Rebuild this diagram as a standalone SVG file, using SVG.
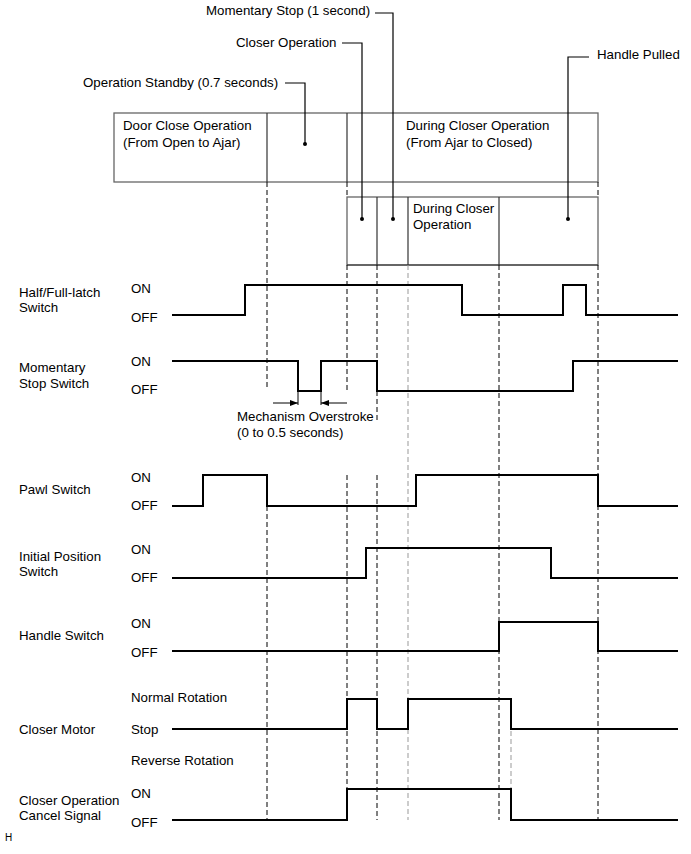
<svg xmlns="http://www.w3.org/2000/svg" width="691" height="854" viewBox="0 0 691 854">
<defs>
<style>
text{font-family:"Liberation Sans",Arial,sans-serif;font-size:13.3px;fill:#000}
.box{fill:none;stroke:#666;stroke-width:1.3}
.div{stroke:#333;stroke-width:1.2;fill:none}
.lead{stroke:#000;stroke-width:1.2;fill:none}
.dash{stroke:#000;stroke-width:1;stroke-dasharray:5 3;fill:none}
.dashg{stroke:#999;stroke-width:1;stroke-dasharray:5 3;fill:none}
.wave{stroke:#000;stroke-width:2;fill:none}
.thin{stroke:#000;stroke-width:1;fill:none}
</style>
<marker id="ah" markerWidth="8" markerHeight="6" refX="8" refY="3" orient="auto" markerUnits="userSpaceOnUse">
<path d="M0,0 L8,3 L0,6 Z" fill="#000"/>
</marker>
</defs>
<rect width="691" height="854" fill="#fff"/>

<g id="phase-boxes">
<rect class="box" x="114" y="113" width="484" height="69"/>
<line class="div" x1="267" y1="113" x2="267" y2="182"/>
<line class="div" x1="347" y1="113" x2="347" y2="182"/>
<text x="123" y="130">Door Close Operation</text>
<text x="123" y="146.5">(From Open to Ajar)</text>
<text x="406" y="130">During Closer Operation</text>
<text x="406" y="147">(From Ajar to Closed)</text>
<rect class="box" x="347" y="197" width="251" height="68"/>
<line class="div" x1="347" y1="265" x2="598" y2="265"/>
<line class="div" x1="377" y1="197" x2="377" y2="265"/>
<line class="div" x1="408" y1="197" x2="408" y2="265"/>
<line class="div" x1="499" y1="197" x2="499" y2="265"/>
<text x="413" y="213">During Closer</text>
<text x="413" y="229">Operation</text>
</g>

<g id="callouts">
<text x="206" y="15">Momentary Stop (1 second)</text>
<polyline class="lead" points="375,13 393,13 393,219"/>
<circle cx="393" cy="219" r="2"/>
<text x="236" y="47">Closer Operation</text>
<polyline class="lead" points="342,43 362,43 362,219"/>
<circle cx="362" cy="219" r="2"/>
<text x="83" y="87">Operation Standby (0.7 seconds)</text>
<polyline class="lead" points="285,83 305,83 305,144"/>
<circle cx="305" cy="144" r="2"/>
<text x="597" y="59">Handle Pulled</text>
<polyline class="lead" points="589,57 568,57 568,219"/>
<circle cx="568" cy="219" r="2"/>
</g>

<g id="connectors">
<line class="dash" x1="267" y1="182" x2="267" y2="387"/>
<line class="dash" x1="267" y1="506" x2="267" y2="820"/>
<line class="dash" x1="347" y1="182" x2="347" y2="197"/>
<line class="dash" x1="347" y1="265" x2="347" y2="390"/>
<line class="dash" x1="347" y1="475" x2="347" y2="820"/>
<line class="dash" x1="377" y1="265" x2="377" y2="361"/>
<line class="dash" x1="377" y1="391" x2="377" y2="421"/>
<line class="dash" x1="377" y1="475" x2="377" y2="820"/>
<line class="dashg" x1="408" y1="265" x2="408" y2="820"/>
<line class="dash" x1="499" y1="265" x2="499" y2="820"/>
<line class="dash" x1="598" y1="182" x2="598" y2="197"/>
<line class="dash" x1="598" y1="265" x2="598" y2="820"/>
<line class="dashg" x1="511" y1="731" x2="511" y2="789"/>
</g>

<g id="half-full-latch">
<text x="19" y="297">Half/Full-latch</text>
<text x="19" y="312">Switch</text>
<text x="131" y="293">ON</text>
<text x="131" y="322">OFF</text>
<polyline class="wave" points="172,315 245,315 245,285 462,285 462,315 563,315 563,285 586,285 586,315 678,315"/>
</g>

<g id="momentary-stop">
<text x="19" y="372">Momentary</text>
<text x="19" y="388">Stop Switch</text>
<text x="131" y="366">ON</text>
<text x="131" y="394">OFF</text>
<polyline class="wave" points="172,361 298,361 298,391 321,391 321,361 377,361 377,391 573,391 573,361 678,361"/>
<line class="thin" x1="298" y1="391" x2="298" y2="405"/>
<line class="thin" x1="321" y1="391" x2="321" y2="405"/>
<line class="thin" x1="273" y1="403" x2="298" y2="403" marker-end="url(#ah)"/>
<line class="thin" x1="347" y1="403" x2="321" y2="403" marker-end="url(#ah)"/>
<text x="237" y="421">Mechanism Overstroke</text>
<text x="237" y="437">(0 to 0.5 seconds)</text>
</g>

<g id="pawl">
<text x="19" y="494">Pawl Switch</text>
<text x="131" y="482">ON</text>
<text x="131" y="510">OFF</text>
<polyline class="wave" points="172,506 203,506 203,475 267,475 267,506 416,506 416,475 598,475 598,506 678,506"/>
</g>

<g id="initial-position">
<text x="19" y="561">Initial Position</text>
<text x="19" y="576">Switch</text>
<text x="131" y="554">ON</text>
<text x="131" y="582">OFF</text>
<polyline class="wave" points="172,578 366,578 366,548 551,548 551,578 678,578"/>
</g>

<g id="handle">
<text x="19" y="640">Handle Switch</text>
<text x="131" y="628">ON</text>
<text x="131" y="657">OFF</text>
<polyline class="wave" points="172,651 499,651 499,622 598,622 598,651 678,651"/>
</g>

<g id="closer-motor">
<text x="131" y="702">Normal Rotation</text>
<text x="19" y="734">Closer Motor</text>
<text x="131" y="734">Stop</text>
<text x="131" y="765">Reverse Rotation</text>
<polyline class="wave" points="172,729 347,729 347,699 377,699 377,729 408,729 408,699 511,699 511,729 678,729"/>
</g>

<g id="cancel-signal">
<text x="19" y="805">Closer Operation</text>
<text x="19" y="820">Cancel Signal</text>
<text x="131" y="798">ON</text>
<text x="131" y="827">OFF</text>
<polyline class="wave" points="172,820 347,820 347,789 511,789 511,820 678,820"/>
</g>

<text x="5" y="841" style="font-size:10px">H</text>
</svg>
